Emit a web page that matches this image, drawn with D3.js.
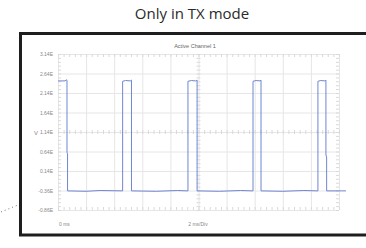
<!DOCTYPE html>
<html>
<head>
<meta charset="utf-8">
<script src="https://cdn.jsdelivr.net/npm/d3@7"></script>
<style>
  body { margin: 0; background: #fff; }
  svg { display: block; }
</style>
</head>
<body>
<div id="chart"></div>
<script>
// y tick labels (as printed on the scope) and their values
const yTickValues = [3.14, 2.64, 2.14, 1.64, 1.14, 0.64, 0.14, -0.36, -0.86];
const yTickLabels = ["3.14E", "2.64E", "2.14E", "1.64E", "1.14E", "0.64E", "0.14E", "-0.36E", "-0.86E"];
const xGridMs = [0, 2, 4, 6, 8, 10, 12, 14, 16, 18, 20];

// trace: time (ms) and voltage (V)
const timeMs = [0, 0.5, 0.62, 0.64, 0.64, 0.68, 0.68, 2.0, 3.0, 4.6,
  4.6, 4.8, 5.15, 5.23, 5.23, 7.0, 8.5, 9.25,
  9.25, 9.5, 9.8, 9.9, 9.9, 11.5, 13.0, 13.88,
  13.88, 14.1, 14.38, 14.45, 14.45, 16.0, 17.5, 18.5,
  18.5, 18.7, 19.0, 19.07, 19.07, 19.12, 19.12, 20.5];
const volts = [2.45, 2.45, 2.48, 2.45, 0.62, 0.58, -0.37, -0.38, -0.36, -0.37,
  2.44, 2.46, 2.45, 2.47, -0.37, -0.38, -0.36, -0.37,
  2.44, 2.46, 2.45, 2.47, -0.37, -0.38, -0.36, -0.37,
  2.44, 2.46, 2.45, 2.47, -0.37, -0.38, -0.36, -0.37,
  2.44, 2.46, 2.45, 2.47, 0.55, 0.5, -0.37, -0.37];

const width = 366, height = 248;
const plot = { left: 58, right: 339, top: 54, bottom: 210 };

const svg = d3.select("#chart").append("svg")
  .attr("width", width)
  .attr("height", height);

svg.append("text")
  .attr("x", 192)
  .attr("y", 19)
  .attr("text-anchor", "middle")
  .style("font-family", "Open Sans")
  .style("font-size", "15px")
  .style("fill", "#2a2a2a")
  .text("Only in TX mode");

// dotted leader line on the left
svg.append("line")
  .attr("x1", 1).attr("y1", 212)
  .attr("x2", 18).attr("y2", 205)
  .style("stroke", "#777")
  .style("stroke-width", 1)
  .style("stroke-dasharray", "1,3");

// scope frame
svg.append("rect")
  .attr("x", 20.5).attr("y", 33.5)
  .attr("width", 370).attr("height", 201.5)
  .style("fill", "none")
  .style("stroke", "#1e1e1e")
  .style("stroke-width", 3);

const x = d3.scaleLinear().domain([0, 20]).range([plot.left, plot.right]);
const y = d3.scaleLinear().domain([-0.86, 3.14]).range([plot.bottom, plot.top]);
const plotW = plot.right - plot.left, plotH = plot.bottom - plot.top;

const g = svg.append("g");

// major grid
g.append("g")
  .attr("transform", `translate(0,${plot.bottom})`)
  .call(d3.axisBottom(x).tickValues(xGridMs).tickSize(-plotH).tickFormat(""))
  .call(a => a.select(".domain").remove())
  .call(a => a.selectAll("line").style("stroke", "#e6e6e6"));

g.append("g")
  .attr("transform", `translate(${plot.left},0)`)
  .call(d3.axisLeft(y).tickValues(yTickValues).tickSize(-plotW).tickFormat(""))
  .call(a => a.select(".domain").remove())
  .call(a => a.selectAll("line").style("stroke", "#e6e6e6"));

// minor ticks (5 per division)
const minorX = d3.range(0, 20.01, 0.4);
const minorY = d3.range(-0.86, 3.15, 0.1);
const tickStyle = a => {
  a.select(".domain").remove();
  a.selectAll("line").style("stroke", "#d9d9d9");
};
[[plot.top, d3.axisBottom, 3], [plot.bottom, d3.axisTop, 3], [y(1.14), d3.axisBottom, 2], [y(1.14), d3.axisTop, 2]]
  .forEach(([py, ax, s]) => {
    g.append("g").attr("transform", `translate(0,${py})`)
      .call(ax(x).tickValues(minorX).tickSize(s).tickFormat(""))
      .call(tickStyle);
  });
[[plot.left, d3.axisRight, 3], [plot.right, d3.axisLeft, 3], [x(10), d3.axisRight, 2], [x(10), d3.axisLeft, 2]]
  .forEach(([px, ax, s]) => {
    g.append("g").attr("transform", `translate(${px},0)`)
      .call(ax(y).tickValues(minorY).tickSize(s).tickFormat(""))
      .call(tickStyle);
  });

// y tick labels
g.selectAll(".ylab")
  .data(yTickValues)
  .join("text")
  .attr("class", "ylab")
  .attr("x", plot.left - 5)
  .attr("y", d => y(d) + 2)
  .attr("text-anchor", "end")
  .style("font-family", "Liberation Sans")
  .style("font-size", "5px")
  .style("fill", "#888")
  .text((d, i) => yTickLabels[i]);

svg.append("text")
  .attr("x", 34).attr("y", y(1.14) + 2.5)
  .style("font-family", "Liberation Sans")
  .style("font-size", "6px")
  .style("fill", "#888")
  .text("V");

svg.append("text")
  .attr("x", 195).attr("y", 48)
  .attr("text-anchor", "middle")
  .style("font-family", "Liberation Sans")
  .style("font-size", "5.5px")
  .style("fill", "#666")
  .text("Active Channel 1");

svg.append("text")
  .attr("x", 59).attr("y", 226)
  .style("font-family", "Liberation Sans")
  .style("font-size", "5px")
  .style("fill", "#888")
  .text("0 ms");

svg.append("text")
  .attr("x", 198).attr("y", 226)
  .attr("text-anchor", "middle")
  .style("font-family", "Liberation Sans")
  .style("font-size", "5px")
  .style("fill", "#888")
  .text("2 ms/Div");

// trace
const line = d3.line()
  .x((d, i) => x(timeMs[i]))
  .y(d => y(d));

svg.append("path")
  .datum(volts)
  .attr("d", line)
  .style("fill", "none")
  .style("stroke", "#6f86d2")
  .style("stroke-width", 1);
</script>
</body>
</html>
